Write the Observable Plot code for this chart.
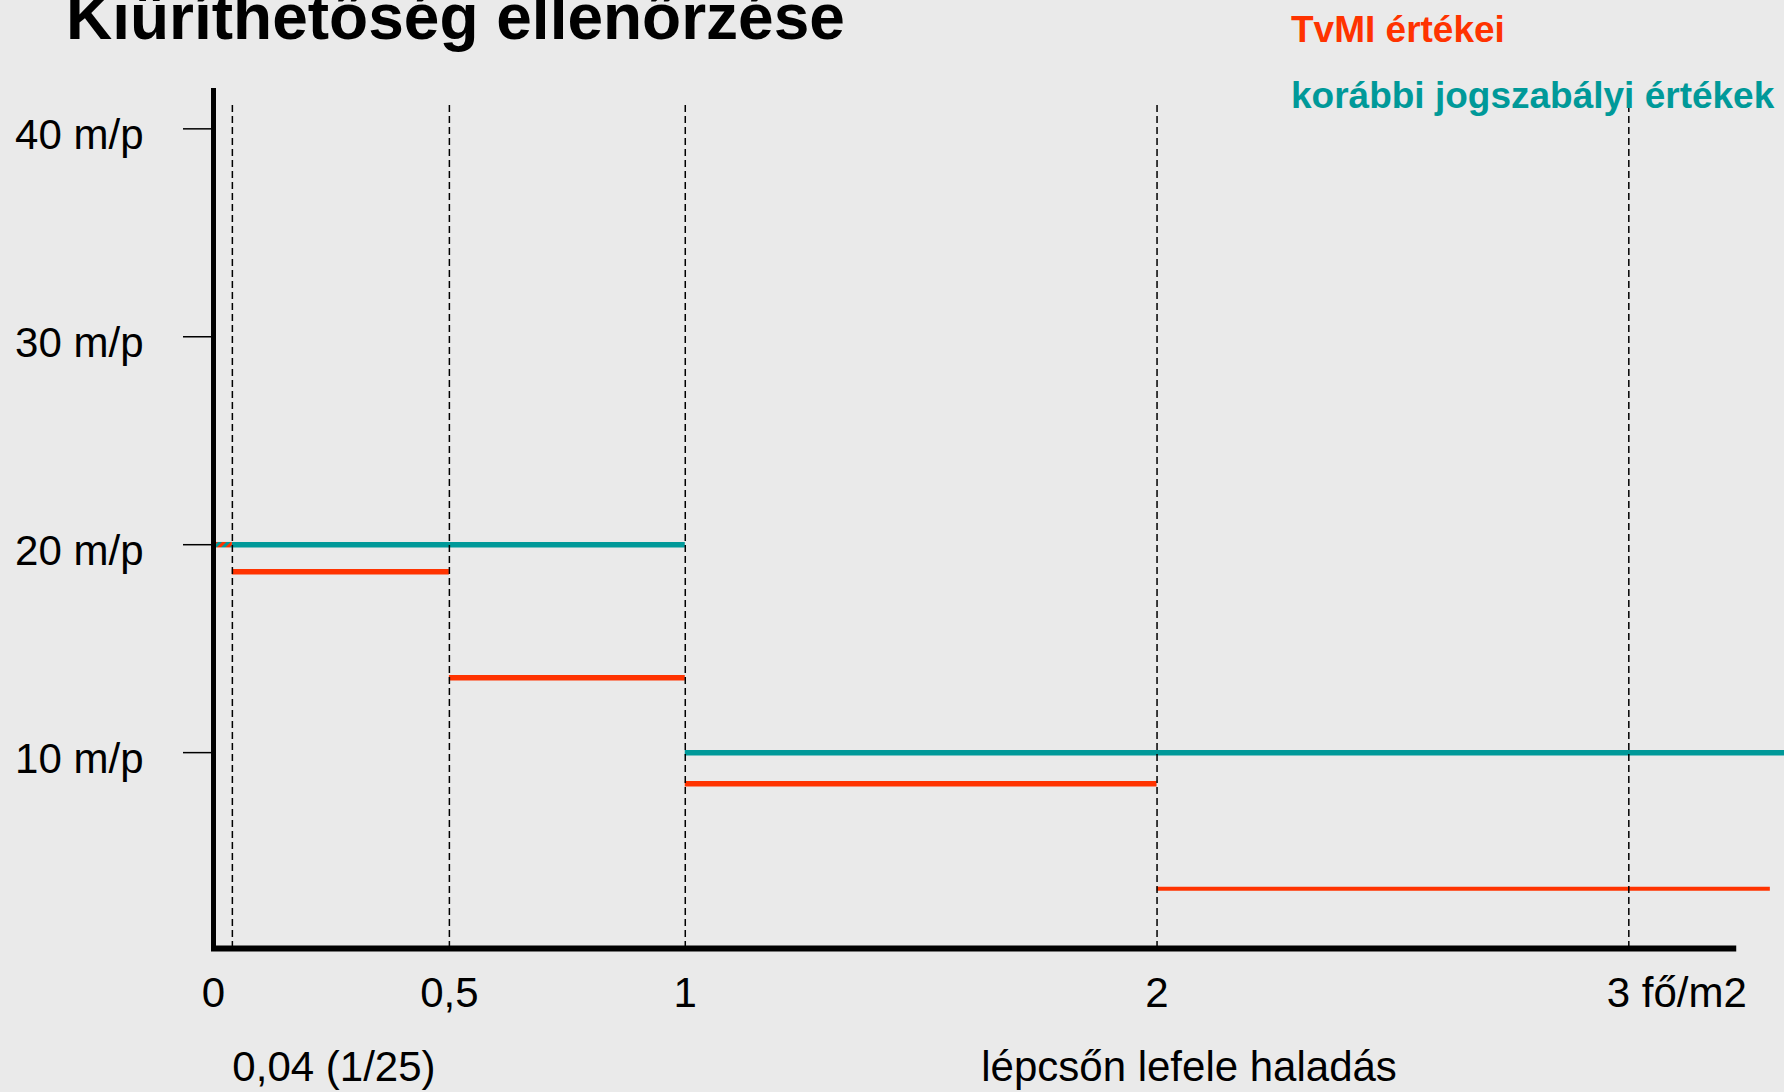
<!DOCTYPE html>
<html><head><meta charset="utf-8">
<script src="https://cdn.jsdelivr.net/npm/d3@7"></script>
<script src="https://cdn.jsdelivr.net/npm/@observablehq/plot@0.6"></script>
<style>
html,body{margin:0;padding:0;background:#eaeaea;overflow:hidden}
#wrap{position:relative;width:1784px;height:1092px;font-family:"Liberation Sans",Arial,sans-serif}
#wrap svg{position:absolute;left:0;top:0}
.title{position:absolute;left:66px;top:-15px;font-size:64px;font-weight:bold;line-height:64px;white-space:nowrap;color:#000}
.leg{position:absolute;left:1291px;font-size:37px;font-weight:bold;line-height:37px;white-space:nowrap}
</style></head><body><div id="wrap"></div>
<script>
// ---- data ----
const titleText = "Kiüríthetőség ellenőrzése";
const seriesNames = ["TvMI értékei", "korábbi jogszabályi értékek"];
const seriesColors = ["#ff3300", "#009999"];

const tvmiStart = [0.04, 0.5, 1, 2];
const tvmiEnd = [0.5, 1, 2, 3.30];
const tvmiValues = [18.7, 13.6, 8.5, 3.45];

const korabbiStart = [0.04, 1];
const korabbiEnd = [1, 3.33];
const korabbiValues = [20, 10];

const overlapStart = [0];
const overlapEnd = [0.04];
const overlapValues = [20];

const gridX = [0.04, 0.5, 1, 2, 3];
const xTickValues = [0, 0.5, 1, 2];
const xTickLabels = ["0", "0,5", "1", "2"];
const lastTickValue = [3];
const lastTickLabel = "3 fő/m2";
const yTickValues = [10, 20, 30, 40];
const yTickLabels = ["10 m/p", "20 m/p", "30 m/p", "40 m/p"];
const noteValue = [0.04];
const noteLabel = "0,04 (1/25)";
const xTitleValue = [2];
const xTitle = "lépcsőn lefele haladás";

const xDomain = [0, 3.33];
const yDomain = [0.58, 41.94];
const xAxisEnd = 3.233;
const gridTop = 41.25;

// ---- build ----
const tvmi = tvmiValues.map((v, i) => ({x1: tvmiStart[i], x2: tvmiEnd[i], y: v, last: i === tvmiValues.length - 1}));
const korabbi = korabbiValues.map((v, i) => ({x1: korabbiStart[i], x2: korabbiEnd[i], y: v}));
const overlap = overlapValues.map((v, i) => ({x1: overlapStart[i], x2: overlapEnd[i], y: v}));

const svg = Plot.plot({
  width: 1784, height: 1092,
  marginLeft: 213, marginRight: 0, marginTop: 88, marginBottom: 144,
  x: {domain: xDomain},
  y: {domain: yDomain},
  style: {background: "transparent", fontFamily: '"Liberation Sans", Arial, sans-serif', fontSize: "42px", color: "#000", overflow: "visible"},
  marks: [
    Plot.axisY(yTickValues, {tickSize: 30, tickPadding: 40, strokeWidth: 1.5, label: null, tickFormat: () => ""}),
    Plot.axisY(yTickValues, {tickSize: 0, tickPadding: 70, dy: 7, label: null,
      tickFormat: d => yTickLabels[yTickValues.indexOf(d)]}),
    Plot.axisX(xTickValues, {tickSize: 0, tickPadding: 29, label: null,
      tickFormat: d => xTickLabels[xTickValues.indexOf(d)]}),
    Plot.text(lastTickValue, {x: d => d, frameAnchor: "bottom", lineAnchor: "top", textAnchor: "start", dx: -22, dy: 29, text: () => lastTickLabel}),
    Plot.text(noteValue, {x: d => d, frameAnchor: "bottom", lineAnchor: "top", textAnchor: "start", dy: 103, text: () => noteLabel}),
    Plot.text(xTitleValue, {x: d => d, frameAnchor: "bottom", lineAnchor: "top", textAnchor: "middle", dx: 32, dy: 103, text: () => xTitle}),
    Plot.ruleY(korabbi, {x1: "x1", x2: "x2", y: "y", stroke: seriesColors[1], strokeWidth: 5.5}),
    Plot.ruleY(overlap, {x1: "x1", x2: "x2", y: "y", stroke: "url(#hatch)", strokeWidth: 5.5}),
    Plot.ruleY(tvmi, {x1: "x1", x2: "x2", y: "y", stroke: seriesColors[0], strokeWidth: d => d.last ? 4 : 5.5}),
    Plot.ruleX(gridX, {x: d => d, y1: () => yDomain[0], y2: () => gridTop, stroke: "#000", strokeWidth: 1.5, strokeDasharray: "7,4"}),
    Plot.ruleX([0], {x: d => d, stroke: "#000", strokeWidth: 5}),
    Plot.ruleY([yDomain[0]], {y: d => d, x1: () => 0, x2: () => xAxisEnd, stroke: "#000", strokeWidth: 6, dx: -2})
  ]
});

const defs = d3.select(svg).insert("defs", ":first-child");
const pat = defs.append("pattern").attr("id", "hatch").attr("patternUnits", "userSpaceOnUse")
  .attr("width", 6).attr("height", 6).attr("patternTransform", "rotate(45)");
pat.append("rect").attr("width", 6).attr("height", 6).attr("fill", seriesColors[1]);
pat.append("rect").attr("width", 3).attr("height", 6).attr("fill", seriesColors[0]);

const wrap = document.getElementById("wrap");
wrap.appendChild(svg);
const t = document.createElement("div");
t.className = "title"; t.textContent = titleText; wrap.appendChild(t);
seriesNames.forEach((n, i) => {
  const d = document.createElement("div");
  d.className = "leg"; d.textContent = n; d.style.color = seriesColors[i];
  d.style.top = (i === 0 ? 11 : 77) + "px";
  wrap.appendChild(d);
});
</script></body></html>
